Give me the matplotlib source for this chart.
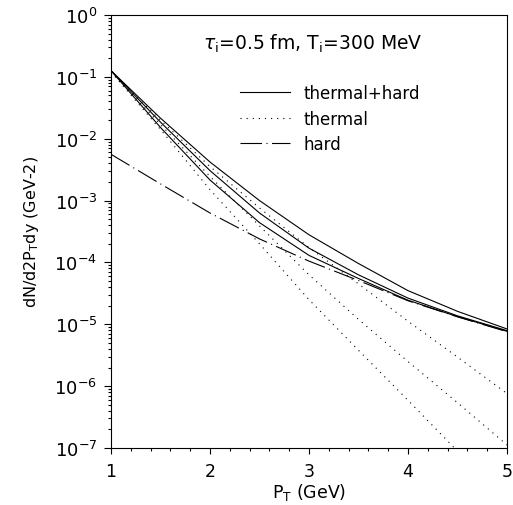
import numpy as np
import matplotlib
matplotlib.use("Agg")
import matplotlib.pyplot as plt
from matplotlib.ticker import LogLocator, MultipleLocator, NullFormatter

plt.rcParams['font.family'] = ['DejaVu Sans']
plt.rcParams['mathtext.fontset'] = 'dejavusans'
plt.rcParams['lines.scale_dashes'] = False

# --- data ---
pt = [1.0, 1.5, 2.0, 2.5, 3.0, 3.5, 4.0, 4.5, 5.0]

# thermal + hard (three cases)
sum_a = [0.126, 0.0215, 4.2e-3, 1.0e-3, 2.8e-4, 9.6e-5, 3.5e-5, 1.62e-5, 8.4e-6]
sum_b = [0.126, 0.0185, 3.05e-3, 6.3e-4, 1.7e-4, 6.3e-5, 2.65e-5, 1.37e-5, 7.9e-6]
sum_c = [0.126, 0.0152, 2.15e-3, 4.4e-4, 1.3e-4, 5.5e-5, 2.45e-5, 1.33e-5, 7.7e-6]

# thermal only
th_a = [0.120, 0.020, 3.55e-3, 7.6e-4, 1.74e-4, 4.5e-5, 1.12e-5, 2.95e-6, 7.6e-7]
th_b = [0.120, 0.0170, 2.45e-3, 3.9e-4, 6.3e-5, 1.2e-5, 2.5e-6, 5.4e-7, 1.12e-7]
th_c = [0.120, 0.0141, 1.5e-3, 2.0e-4, 2.5e-5, 3.8e-6, 5.9e-7, 8.9e-8, 1.4e-8]

# hard
hard = [5.6e-3, 1.86e-3, 6.3e-4, 2.4e-4, 1.05e-4, 5.1e-5, 2.4e-5, 1.32e-5, 7.6e-6]

# y decades shown on the axis
y_decades = [1e-7, 1e-6, 1e-5, 1e-4, 1e-3, 1e-2, 1e-1, 1e0]

# --- figure ---
fig = plt.figure(figsize=(5.13, 5.06), dpi=100)
ax = fig.add_axes([111/513, 1 - 449/506, 396/513, 433/506])

lw = 0.8
dotted = (0, (0.8, 3.6))
dashdot = (0, (15.5, 3.2, 0.8, 3.2))

ax.plot(pt, sum_a, color='black', lw=lw, label='thermal+hard')
ax.plot(pt, sum_b, color='black', lw=lw)
ax.plot(pt, sum_c, color='black', lw=lw)
ax.plot(pt, th_a, color='black', lw=lw, ls=dotted, label='thermal')
ax.plot(pt, th_b, color='black', lw=lw, ls=dotted)
ax.plot(pt, th_c, color='black', lw=lw, ls=dotted)
ax.plot(pt, hard, color='black', lw=lw, ls=dashdot, label='hard')

ax.set_yscale('log')
ax.set_xlim(1, 5)
ax.set_ylim(1e-7, 1)

ax.xaxis.set_major_locator(MultipleLocator(1))
ax.xaxis.set_minor_locator(MultipleLocator(0.2))
ax.set_yticks(y_decades)
ax.yaxis.set_minor_locator(LogLocator(base=10, subs=np.arange(2, 10), numticks=20))
ax.yaxis.set_minor_formatter(NullFormatter())
ax.set_ylim(1e-7, 1)

ax.tick_params(axis='both', which='both', direction='out', top=False, right=False,
               width=0.8)
ax.tick_params(axis='y', which='major', length=5, pad=5, labelsize=13)
ax.tick_params(axis='y', which='minor', length=2.5)
ax.tick_params(axis='x', which='major', length=4, pad=6, labelsize=12.5)
ax.tick_params(axis='x', which='minor', length=2)

for s in ax.spines.values():
    s.set_linewidth(0.8)

ax.set_xlabel(r'P$_{\rm T}$ (GeV)', fontsize=12.5, labelpad=1)
ax.set_ylabel(r'dN/d2P$_{\rm T}$dy (GeV-2)', fontsize=11.5)
ax.yaxis.set_label_coords(-0.178, 0.5)

ax.text(0.232, 0.935, r'$\tau_{\rm i}$=0.5 fm, T$_{\rm i}$=300 MeV',
        transform=ax.transAxes, fontsize=13.5, va='center', ha='left')

ax.legend(loc='upper left', bbox_to_anchor=(0.325, 0.84), frameon=False,
          fontsize=12, handlelength=3.0, handletextpad=0.8, labelspacing=0.45,
          borderpad=0, borderaxespad=0)

fig.savefig('out.png', dpi=100)
